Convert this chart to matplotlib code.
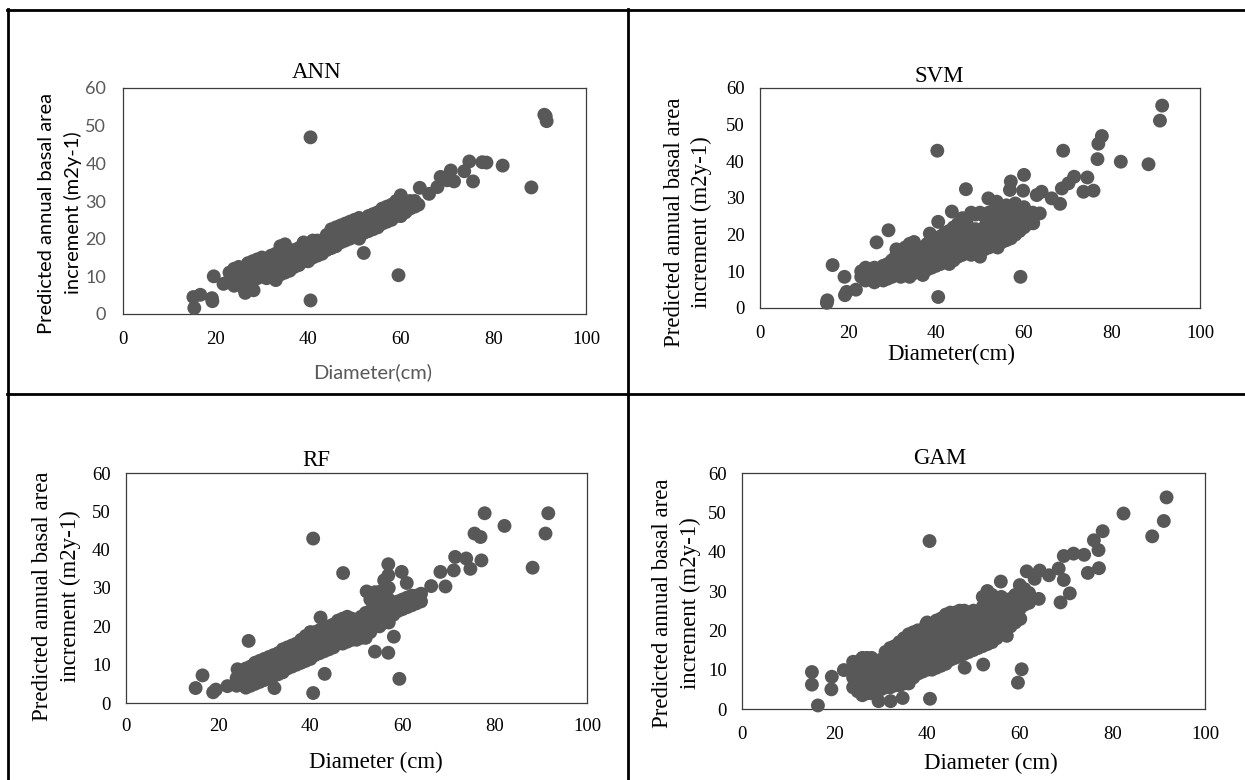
import matplotlib
matplotlib.use("Agg")
import matplotlib.pyplot as plt
from matplotlib.lines import Line2D

W, H = 1245, 780
SERIF = ["Liberation Serif", "DejaVu Serif"]
SANS = ["Lato", "DejaVu Sans"]
DOT = "#585858"
GRAY_TXT = "#595959"

# ---------------- data ----------------
titles = ["ANN", "SVM", "RF", "GAM"]
x_ticks = [0, 20, 40, 60, 80, 100]
y_ticks = [0, 10, 20, 30, 40, 50, 60]

ann_diameter = [
    23, 23, 24, 24, 24, 25, 25, 25, 26, 26, 26, 27, 27, 27, 28, 28, 28, 29, 29, 29,
    30, 30, 30, 31, 31, 31, 32, 32, 32, 33, 33, 33, 33, 34, 34, 34, 34, 35, 35, 35, 35,
    36, 36, 36, 37, 37, 37, 38, 38, 38, 39, 39, 39, 40, 40, 40, 41, 41, 41, 42, 42, 42,
    43, 43, 44, 44, 44, 45, 45, 45, 46, 46, 46, 47, 47, 47, 48, 48, 48, 49, 49, 49,
    50, 50, 50, 51, 51, 51, 52, 52, 53, 53, 53, 54, 54, 54, 55, 55, 55, 56, 56, 56,
    57, 57, 57, 58, 58, 58, 59, 59, 59, 60, 60, 60, 60, 61, 61, 62, 62, 63, 63,
    40.5, 40.5, 59.5, 52.0, 91.0, 91.3, 91.5, 88.2, 82.0, 75.6, 77.6, 78.5, 74.8, 73.7,
    70.8, 71.5, 68.6, 67.9, 70.0, 66.1, 64.1, 63.8,
    15.2, 15.4, 16.7, 19.2, 19.3, 19.6, 21.7, 26.4, 28.2]
ann_pred = [
    9, 11, 7.5, 10, 12, 8, 10.5, 12.5, 7, 9.5, 12, 8, 11, 13.5, 9, 12, 14, 9.5, 12, 14.5,
    10, 12.5, 15, 9.5, 12, 14.5, 10.5, 13, 15.5, 9, 11.5, 14, 16, 10.5, 13, 16, 18, 11, 14, 17, 18.5,
    11.5, 14.5, 16.5, 12.5, 15, 17, 13, 15.5, 17.5, 14, 16.5, 19, 14, 16, 18.5, 15, 17, 19.5, 15.5, 17.5, 19.5,
    16, 18, 17, 19, 21, 17.5, 20, 22.5, 18, 20.5, 23, 19, 21, 23.5, 19.5, 22, 24, 20, 22.5, 24.5,
    20.5, 23, 25, 20, 22.5, 25.5, 21.5, 24, 22, 24.5, 26, 22.5, 25, 26.5, 23, 25.5, 27, 24, 26.5, 28,
    24.5, 27, 28.5, 25, 27.5, 29, 26, 28, 30, 26, 28.5, 31, 31.5, 27, 29.5, 28, 30, 28.5, 30,
    46.9, 3.6, 10.3, 16.2, 52.9, 52.5, 51.2, 33.6, 39.4, 35.2, 40.3, 40.2, 40.5, 37.9,
    38.1, 35.2, 36.4, 33.7, 35.5, 31.9, 33.5, 29.0,
    4.5, 1.6, 5.1, 4.2, 3.4, 10.0, 8.0, 5.6, 6.3]

svm_diameter = [
    23, 23, 24, 24, 24, 25, 25, 26, 26, 26, 27, 27, 28, 28, 28, 29, 29, 29, 30, 30, 30,
    31, 31, 31, 31, 32, 32, 32, 33, 33, 33, 33, 34, 34, 34, 34, 34, 35, 35, 35, 35,
    36, 36, 36, 37, 37, 37, 37, 38, 38, 38, 38, 39, 39, 39, 40, 40, 40, 40, 41, 41, 41, 41,
    42, 42, 42, 42, 43, 43, 43, 43, 44, 44, 44, 44, 45, 45, 45, 45, 46, 46, 46, 46,
    47, 47, 47, 47, 48, 48, 48, 48, 49, 49, 49, 49, 50, 50, 50, 50, 51, 51, 51, 51,
    52, 52, 52, 52, 53, 53, 53, 53, 54, 54, 54, 54, 55, 55, 55, 55, 56, 56, 56, 56,
    57, 57, 57, 57, 58, 58, 58, 58, 59, 59, 59, 60, 60, 60, 61, 61, 62, 62,
    91.4, 90.9, 40.3, 68.9, 77.7, 76.9, 76.7, 82.0, 88.3, 74.4, 71.4, 70.1, 68.6, 73.5,
    75.8, 68.2, 66.3, 64.0, 62.9, 60.0, 59.8, 57.0, 56.8, 46.8, 51.9, 53.8, 43.6, 40.5,
    38.6, 29.2, 26.5, 16.5, 19.2, 19.3, 19.7, 21.8, 15.2, 15.3, 40.5, 59.2, 63.6, 62.1]
svm_pred = [
    8.5, 10, 7.5, 9.5, 11, 8, 10.5, 7, 9, 11, 8, 10.5, 7.5, 9.5, 11.5, 8, 10, 12, 8.5, 11, 13,
    9, 11.5, 14.5, 16, 8.5, 10.5, 13, 9, 11.5, 14, 16.5, 8.5, 10, 12.5, 15, 17.5, 9.5, 12, 14.5, 18,
    10, 13, 15.5, 9, 11, 14, 16.5, 10.5, 13, 15.5, 17.5, 11, 13.5, 16, 11.5, 14, 16.5, 19, 12, 14.5, 17, 19.5,
    12.5, 15, 17.5, 20.5, 12, 15.5, 18, 21, 13, 16, 18.5, 22, 14, 16.5, 19.5, 23, 14.5, 17, 20, 24.5,
    15, 17.5, 20.5, 23, 14.5, 18, 21, 26, 15.5, 18.5, 21.5, 25.5, 14, 17, 20, 26, 16, 19, 22, 25,
    16.5, 19.5, 23, 26, 17, 20, 23.5, 26.5, 16.5, 20.5, 24, 27, 18, 21, 24.5, 27.5, 18.5, 22, 25, 28,
    19, 22.5, 25.5, 27, 20, 23, 26, 28.5, 21, 24, 27, 22, 25, 27.5, 23, 25.5, 23.5, 26,
    55.2, 51.1, 42.9, 42.9, 46.9, 44.8, 40.6, 39.9, 39.2, 35.6, 35.8, 34.0, 32.6, 31.7,
    32.0, 28.4, 29.9, 31.7, 30.8, 36.3, 32.0, 34.5, 32.2, 32.4, 29.9, 29.0, 26.3, 23.5,
    20.3, 21.2, 17.9, 11.7, 8.5, 3.5, 4.4, 5.0, 1.4, 2.1, 3.0, 8.5, 25.8, 23.1]

rf_diameter = [
    24, 24, 25, 25, 26, 26, 26, 27, 27, 27, 28, 28, 28, 29, 29, 29, 30, 30, 30,
    31, 31, 31, 32, 32, 32, 33, 33, 33, 34, 34, 34, 35, 35, 35, 36, 36, 36,
    37, 37, 37, 38, 38, 38, 39, 39, 39, 40, 40, 40, 41, 41, 41, 42, 42, 42,
    43, 43, 43, 44, 44, 44, 45, 45, 45, 46, 46, 46, 47, 47, 47, 48, 48, 48,
    49, 49, 49, 50, 50, 50, 51, 51, 51, 52, 52, 52, 53, 53, 53, 53,
    54, 54, 54, 54, 55, 55, 55, 55, 56, 56, 56, 56, 56, 57, 57, 57, 57,
    58, 58, 59, 59, 60, 60, 61, 61, 62, 62, 63, 63, 64, 64,
    77.8, 91.6, 82.1, 91.0, 75.6, 76.9, 40.6, 88.2, 77.1, 71.4, 73.8, 74.7, 71.1, 68.2,
    69.3, 66.2, 56.9, 56.9, 59.8, 60.9, 47.1, 52.2, 54.0, 42.2, 26.6, 58.1, 54.0, 56.9,
    59.3, 43.1, 40.6, 32.2, 15.1, 16.6, 18.9, 19.5, 22.0, 24.2]
rf_pred = [
    4.5, 6.5, 5, 7.5, 4, 6.5, 9, 4.5, 7, 9.5, 5, 8, 10.5, 5.5, 8, 11, 6, 9, 11.5,
    6.5, 9, 12, 7, 9.5, 12.5, 7.5, 10.5, 13, 8, 11, 14, 9, 11.5, 14.5, 9.5, 12, 15,
    10, 12.5, 15.5, 10.5, 13.5, 16.5, 11, 14, 17.5, 11.5, 14.5, 18.5, 12.5, 15.5, 18.5, 13, 16, 19,
    13.5, 16.5, 19.5, 14, 17, 20, 14.5, 17.5, 20.5, 15.5, 18.5, 21.5, 15.5, 19, 22, 16, 19.5, 22.5,
    16.5, 19.5, 22, 16.5, 19, 21.5, 17, 19.5, 22.5, 17, 20, 23.5, 18.5, 21, 24, 27,
    20, 22.5, 25.5, 28.5, 20, 23, 26, 29, 21, 23.5, 26.5, 29.5, 32, 21, 24, 27, 30,
    23, 26, 24, 26.5, 24.5, 27, 25, 27.5, 25.5, 28, 26, 28, 26.5, 28.5,
    49.5, 49.5, 46.2, 44.2, 44.2, 43.3, 42.9, 35.3, 37.2, 38.1, 37.7, 35.0, 34.6, 34.2,
    30.4, 30.5, 36.2, 33.3, 34.2, 31.3, 33.9, 29.1, 28.9, 22.3, 16.2, 17.3, 13.4, 13.1,
    6.3, 7.6, 2.6, 3.9, 3.9, 7.2, 2.8, 3.5, 4.4, 8.8]

gam_diameter = [
    24, 24, 24, 24,
    25, 25, 25, 25,
    26, 26, 26, 26, 26,
    27, 27, 27, 27, 27,
    28, 28, 28, 28, 28,
    29, 29, 29, 29,
    30, 30, 30, 30,
    31, 31, 31, 31, 31,
    32, 32, 32, 32, 32,
    33, 33, 33, 33, 33,
    34, 34, 34, 34, 34, 34,
    35, 35, 35, 35, 35, 35,
    36, 36, 36, 36, 36, 36,
    37, 37, 37, 37, 37, 37,
    38, 38, 38, 38, 38, 38,
    39, 39, 39, 39, 39,
    40, 40, 40, 40, 40, 40,
    41, 41, 41, 41, 41, 41,
    42, 42, 42, 42, 42, 42,
    43, 43, 43, 43, 43, 43,
    44, 44, 44, 44, 44, 44,
    45, 45, 45, 45, 45, 45,
    46, 46, 46, 46, 46, 46,
    47, 47, 47, 47, 47, 47,
    48, 48, 48, 48, 48, 48,
    49, 49, 49, 49, 49,
    50, 50, 50, 50, 50,
    51, 51, 51, 51,
    52, 52, 52, 52, 52, 52,
    53, 53, 53, 53, 53, 53,
    54, 54, 54, 54, 54, 54,
    55, 55, 55, 55, 55,
    56, 56, 56, 56, 56,
    57, 57, 57, 57,
    58, 58, 58, 58,
    59, 59, 59, 59,
    60, 60, 60, 60,
    61, 61, 61,
    62, 62,
    91.7, 82.4, 91.1, 88.6, 77.9, 76.0, 40.5, 77.0, 73.9, 71.6, 69.5, 77.1, 74.7, 68.4,
    69.5, 66.3, 64.3, 61.5, 63.2, 70.8, 68.8, 55.9, 64.1, 60.1, 57.2, 60.4, 59.6, 52.1,
    48.1, 40.6, 34.7, 32.1, 29.5, 16.4, 15.1, 15.1, 19.4, 19.3, 22.0, 39.8]
gam_pred = [
    5.5, 8, 10.5, 12,
    4.5, 7, 9.5, 12,
    3.5, 6, 8.5, 11, 13,
    4, 6.5, 9, 11.5, 13,
    4, 6.5, 9, 11, 13,
    5, 7.5, 10, 12,
    5, 7.5, 10, 12.5,
    5.5, 8, 10.5, 13, 14.5,
    5.5, 8, 10.5, 13, 15.5,
    6, 8.5, 11, 13.5, 16,
    6, 8.5, 11, 13.5, 15.5, 17,
    6.5, 9, 11.5, 14, 16.5, 18,
    6.5, 9.5, 12, 14.5, 17, 19,
    8, 10.5, 13, 15.5, 18, 19.5,
    9, 11.5, 14, 16.5, 19, 20,
    9.5, 12, 14.5, 17, 19.5,
    10, 12.5, 15, 17.5, 20, 22,
    10, 12.5, 15, 17.5, 20, 21.5,
    10.5, 13, 15.5, 18, 20.5, 22.5,
    11, 13.5, 16, 18.5, 21, 23,
    11.5, 14, 16.5, 19, 21.5, 24,
    12.5, 15, 17.5, 20, 22.5, 24.5,
    13, 15.5, 18, 20.5, 23, 24.5,
    13.5, 16, 18.5, 21, 23.5, 25,
    14, 16.5, 19, 21.5, 24, 25,
    14.5, 17, 19.5, 22, 24.5,
    15, 17.5, 20, 22.5, 25,
    15.5, 18, 20.5, 23,
    16, 18.5, 21, 23.5, 26, 28.5,
    16.5, 19, 21.5, 24, 27, 30,
    17, 19.5, 22, 24.5, 27, 29,
    18, 20.5, 23, 25.5, 28,
    19, 21.5, 24, 26.5, 28.5,
    20, 22.5, 25, 27,
    21, 23.5, 26, 28,
    22, 24.5, 27, 29,
    23, 25.5, 28, 31.5,
    26.5, 29, 30.5,
    27, 29.5,
    53.8, 49.7, 47.8, 43.9, 45.2, 42.9, 42.7, 40.4, 39.2, 39.5, 38.9, 35.8, 34.6, 35.7,
    32.8, 34.0, 35.2, 35.0, 33.1, 29.4, 27.1, 32.4, 28.0, 22.9, 18.6, 10.1, 6.7, 11.3,
    10.5, 2.6, 2.8, 2.0, 2.0, 0.9, 9.4, 6.2, 8.2, 5.0, 9.9, 21.6]

xs = [ann_diameter, svm_diameter, rf_diameter, gam_diameter]
ys = [ann_pred, svm_pred, rf_pred, gam_pred]

# ---------------- layout (pixel geometry) ----------------
boxes = [(123, 586, 88, 314), (760, 1200, 88, 308),
         (126, 587, 473, 703), (742, 1205, 473, 709)]
title_pos = [(317, 73), (939, 76), (316, 460), (940, 458)]
xlabel_pos = [(373, 372), (951, 354), (376, 762), (991, 763)]
xlabel_txt = ["Diameter(cm)", "Diameter(cm)", "Diameter (cm)", "Diameter (cm)"]
ylab_pos = [((47, 214), (73, 213)), ((674, 222), (701, 222)),
            ((43, 596), (70, 596)), ((662, 603), (690, 603))]
xpads = [12.5, 12.3, 11, 12.3]

fig = plt.figure(figsize=(W / 100, H / 100), dpi=100)
fig.patch.set_facecolor("white")

def fx(px):
    return px / W

def fy(py):
    return 1 - py / H

for i in range(4):
    l, r, t, b = boxes[i]
    ax = fig.add_axes([fx(l), fy(b), (r - l) / W, (b - t) / H])
    ax.scatter(xs[i], ys[i], s=100, color=DOT, edgecolors="none", zorder=3,
               clip_on=False)
    ax.set_xlim(0, 100)
    ax.set_ylim(0, 60)
    ax.set_xticks(x_ticks)
    ax.set_yticks(y_ticks)
    for sp in ax.spines.values():
        sp.set_color("#3c3c3c")
        sp.set_linewidth(0.9)
    ax.tick_params(length=0)
    ax.tick_params(axis="x", pad=xpads[i])
    if i == 0:
        ax.tick_params(axis="y", pad=12)
        for lab in ax.get_xticklabels():
            lab.set_family(SERIF); lab.set_fontsize(13.5); lab.set_color("black")
        for lab in ax.get_yticklabels():
            lab.set_family(SANS); lab.set_fontsize(13); lab.set_color(GRAY_TXT)
    else:
        ax.tick_params(axis="y", pad=11)
        for lab in ax.get_xticklabels() + ax.get_yticklabels():
            lab.set_family(SERIF); lab.set_fontsize(13.5); lab.set_color("black")

    tx, ty = title_pos[i]
    fig.text(fx(tx), fy(ty), titles[i], family=SERIF, fontsize=16.5,
             ha="center", va="center")
    lx, lyy = xlabel_pos[i]
    if i == 0:
        fig.text(fx(lx), fy(lyy), xlabel_txt[i], family=SANS, fontsize=14.5,
                 color=GRAY_TXT, ha="center", va="center")
    else:
        fig.text(fx(lx), fy(lyy), xlabel_txt[i], family=SERIF, fontsize=16.5,
                 ha="center", va="center")
    (p1x, p1y), (p2x, p2y) = ylab_pos[i]
    fam = SANS if i == 0 else SERIF
    fsz = 14.5 if i == 0 else 16.5
    fig.text(fx(p1x), fy(p1y), "Predicted annual basal area", family=fam,
             fontsize=fsz, rotation=90, ha="center", va="center")
    fig.text(fx(p2x), fy(p2y), "increment (m2y-1)", family=fam,
             fontsize=fsz, rotation=90, ha="center", va="center")

# table borders
lw = 2.0
def hline(py, x0, x1):
    fig.add_artist(Line2D([fx(x0), fx(x1)], [fy(py), fy(py)], color="black", lw=lw))

def vline(px, y0, y1):
    fig.add_artist(Line2D([fx(px), fx(px)], [fy(y0), fy(y1)], color="black", lw=lw))

hline(10, 7, W)
hline(394, 7, W)
vline(8, 9, H)
vline(628, 9, H)

fig.savefig("out.png", dpi=100, facecolor="white")
